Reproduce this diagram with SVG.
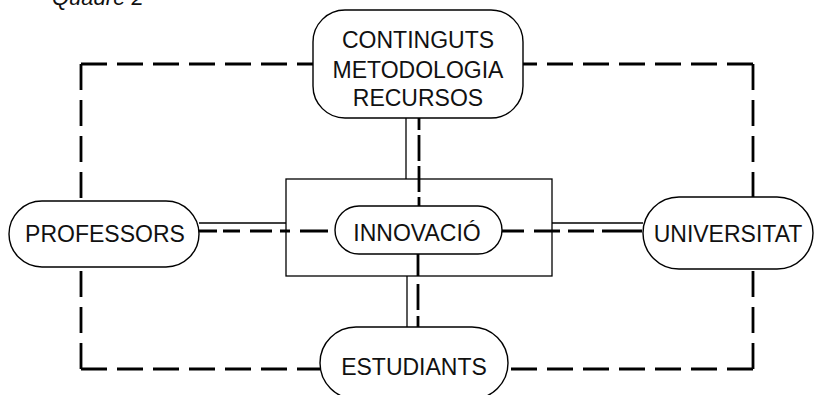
<svg xmlns="http://www.w3.org/2000/svg" width="826" height="395" viewBox="0 0 826 395">
<style>
.node{fill:#fff;stroke:#000;stroke-width:1.4}
.frame{fill:none;stroke:#000;stroke-width:1.3}
.thin{fill:none;stroke:#000;stroke-width:1.3}
.dash{fill:none;stroke:#000;stroke-width:2.8;stroke-dasharray:26 10}
.lbl{font-family:"Liberation Sans",Arial,sans-serif;font-size:23px;fill:#111;text-anchor:middle}
</style>
<rect width="826" height="395" fill="#fff"/>
<text x="52" y="5" style="font-family:'Liberation Sans',Arial,sans-serif;font-size:22px;font-style:italic;fill:#111">Quadre 2</text>
<g id="connectors">
  <path class="dash" d="M81,64 H313"/>
  <path class="dash" d="M81,64 V201"/>
  <path class="dash" d="M753,64 H523"/>
  <path class="dash" d="M753,64 V197"/>
  <path class="dash" d="M81,369 V267"/>
  <path class="dash" d="M81,369 H320"/>
  <path class="dash" d="M753,369 V269"/>
  <path class="dash" d="M753,369 H508"/>
  <path class="thin" d="M406,118 V179"/>
  <path class="dash" d="M419,118 V206" style="stroke-dasharray:12 5 26 5 26 5 14"/>
  <path class="thin" d="M407,276 V327"/>
  <path class="dash" d="M418,254 V327" style="stroke-dasharray:22 8 26 6 14"/>
  <path class="thin" d="M199,223 H286"/>
  <path class="dash" d="M199,231 H335" style="stroke-dasharray:18 6 17 10 22 8 10 10 28"/>
  <path class="thin" d="M552,223 H643"/>
  <path class="dash" d="M502,231 H643" style="stroke-dasharray:22 10 26 8 26 8 40"/>
</g>
<g id="frame">
  <rect class="frame" x="286" y="179" width="266" height="97"/>
</g>
<g id="node-contents">
  <rect class="node" x="313" y="10" width="210" height="108" rx="32"/>
  <text class="lbl" x="418" y="48">CONTINGUTS</text>
  <text class="lbl" x="418" y="78">METODOLOGIA</text>
  <text class="lbl" x="418" y="106">RECURSOS</text>
</g>
<g id="node-professors">
  <rect class="node" x="9" y="201" width="190" height="66" rx="33"/>
  <text class="lbl" x="105" y="242">PROFESSORS</text>
</g>
<g id="node-innovacio">
  <rect class="node" x="335" y="206" width="167" height="48" rx="24"/>
  <text class="lbl" x="417" y="241">INNOVACIÓ</text>
</g>
<g id="node-universitat">
  <rect class="node" x="643" y="197" width="170" height="72" rx="36"/>
  <text class="lbl" x="728" y="242">UNIVERSITAT</text>
</g>
<g id="node-estudiants">
  <rect class="node" x="320" y="327" width="188" height="72" rx="36"/>
  <text class="lbl" x="414" y="375">ESTUDIANTS</text>
</g>
</svg>
